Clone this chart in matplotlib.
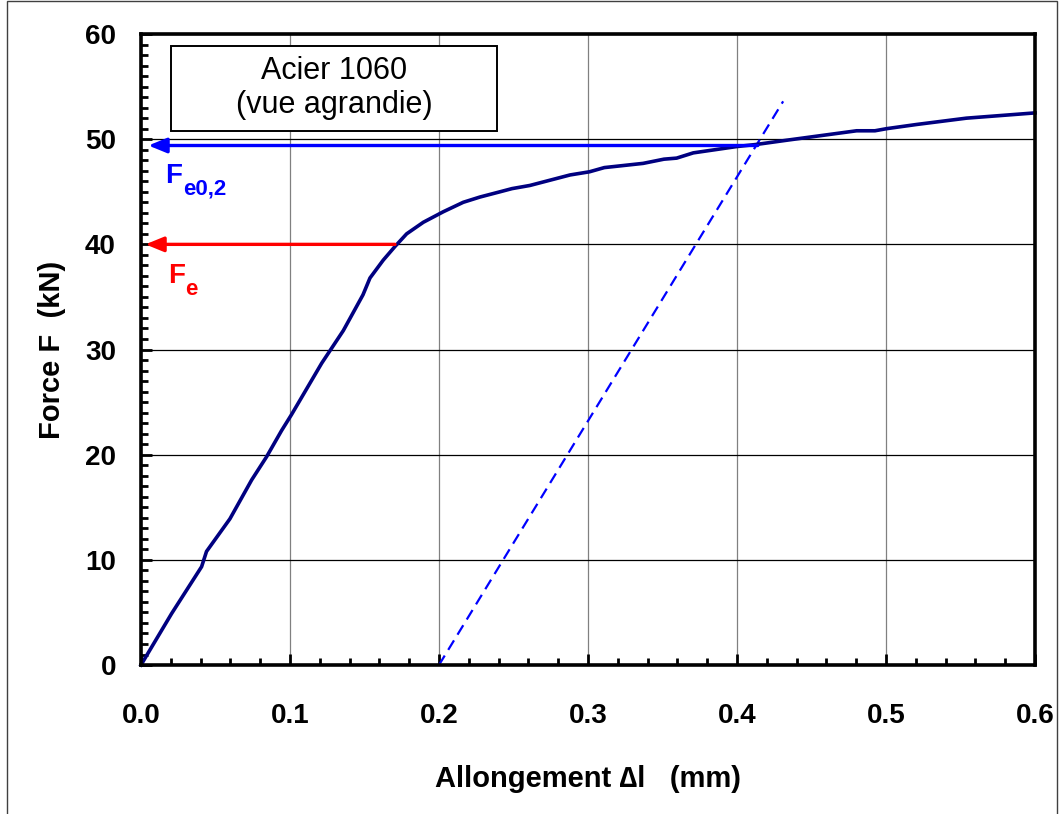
import matplotlib
matplotlib.use("Agg")
import matplotlib.pyplot as plt
from matplotlib.patches import Rectangle
from matplotlib.ticker import MultipleLocator

plt.rcParams['font.family'] = ['Liberation Sans', 'DejaVu Sans']

# tensile curve (mm, kN)
elongation = [0, 0.0206, 0.0407, 0.044, 0.0597, 0.0743, 0.0843, 0.0944, 0.101,
              0.1213, 0.1358, 0.149, 0.1537, 0.1626, 0.1705, 0.1783, 0.1895,
              0.2029, 0.2163, 0.2275, 0.241, 0.249, 0.261, 0.2745, 0.288,
              0.301, 0.311, 0.337, 0.351, 0.3595, 0.3707, 0.3998, 0.413,
              0.4333, 0.4803, 0.4926, 0.5004, 0.5206, 0.554, 0.6]
force = [0, 4.9, 9.35, 10.8, 13.9, 17.6, 19.8, 22.3, 23.8, 28.7, 31.8, 35.2,
         36.8, 38.5, 39.8, 41.0, 42.1, 43.1, 44.0, 44.5, 45.0, 45.3, 45.6,
         46.1, 46.6, 46.9, 47.3, 47.7, 48.1, 48.2, 48.7, 49.3, 49.5, 49.9,
         50.8, 50.8, 51.0, 51.4, 52.0, 52.5]

# 0.2 % offset line
offset_x = [0.2, 0.431]
offset_f = [0.0, 53.6]

# Fe0,2 and Fe levels (kN) and where the arrows start (mm)
fe02 = 49.4
fe02_from = 0.414
fe = 40.0
fe_from = 0.1705

fig = plt.figure(figsize=(10.59, 8.14), dpi=100)
ax = fig.add_axes([0.1331, 0.1830, 0.8442, 0.7752])

# thin page frame around the whole figure
fig.patches.append(Rectangle((0.0066, -0.05), 0.9915, 1.0489, transform=fig.transFigure,
                             fill=False, edgecolor='#404040', linewidth=1.0))

ax.set_xlim(0, 0.6)
ax.set_ylim(0, 60)

ax.xaxis.set_major_locator(MultipleLocator(0.1))
ax.xaxis.set_minor_locator(MultipleLocator(0.02))
ax.yaxis.set_major_locator(MultipleLocator(10))
ax.yaxis.set_minor_locator(MultipleLocator(1))

ax.grid(axis='y', which='major', color='black', linewidth=0.9)
ax.grid(axis='x', which='major', color='#808080', linewidth=0.9)
ax.set_axisbelow(True)

for sp in ax.spines.values():
    sp.set_linewidth(2.6)

ax.tick_params(which='both', direction='in', width=2, top=False, right=False)
ax.tick_params(which='major', length=8)
ax.tick_params(which='minor', length=5)
ax.tick_params(axis='x', which='major', pad=27, labelsize=20)
ax.tick_params(axis='y', which='major', pad=18, labelsize=20)
ax.set_xticklabels([f"{v:.1f}" for v in ax.get_xticks()], fontweight='bold')
ax.set_yticklabels([f"{v:.0f}" for v in ax.get_yticks()], fontweight='bold')

ax.plot(offset_x, offset_f, color='#0000FF', linewidth=1.6, linestyle=(0, (5, 3)))
ax.plot(elongation, force, color='#000080', linewidth=2.6, clip_on=False)

ax.annotate("", xy=(0.005, fe02), xytext=(fe02_from, fe02),
            arrowprops=dict(arrowstyle='-|>,head_length=1.1,head_width=0.45',
                            color='#0000FF', lw=2.4, mutation_scale=10,
                            shrinkA=0, shrinkB=0))
ax.annotate("", xy=(0.003, fe), xytext=(fe_from, fe),
            arrowprops=dict(arrowstyle='-|>,head_length=1.1,head_width=0.45',
                            color='#FF0000', lw=2.4, mutation_scale=10,
                            shrinkA=0, shrinkB=0))

t1 = ax.text(0.0161, 45.8, "F", color='#0000FF', fontsize=20, fontweight='bold')
ax.annotate("e0,2", xy=(1, 0), xycoords=t1, xytext=(0.5, -4), textcoords='offset points',
            color='#0000FF', fontsize=16, fontweight='bold', va='baseline')
t2 = ax.text(0.018, 36.3, "F", color='#FF0000', fontsize=20, fontweight='bold')
ax.annotate("e", xy=(1, 0), xycoords=t2, xytext=(0.5, -4), textcoords='offset points',
            color='#FF0000', fontsize=16, fontweight='bold', va='baseline')

ax.add_patch(Rectangle((0.0201, 50.8), 0.2188, 8.1, facecolor='white',
                       edgecolor='black', linewidth=1.4, zorder=4))
ax.text(0.1295, 54.85, "Acier 1060\n(vue agrandie)", ha='center', va='center',
        fontsize=22, linespacing=1.15, zorder=5)

ax.set_xlabel("Allongement \u2206l   (mm)", fontsize=21, fontweight='bold', labelpad=26)
ax.set_ylabel("Force F  (kN)", fontsize=21, fontweight='bold', labelpad=14)

fig.savefig("out.png", dpi=100)
